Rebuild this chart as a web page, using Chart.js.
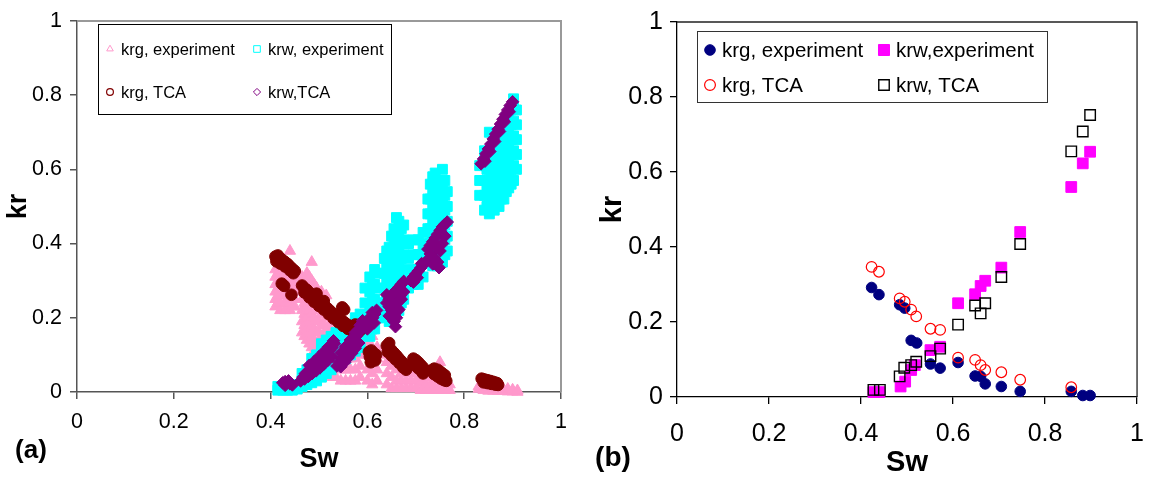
<!DOCTYPE html>
<html>
<head>
<meta charset="utf-8">
<script src="https://cdn.jsdelivr.net/npm/chart.js@4.4.0/dist/chart.umd.min.js"></script>
<style>
  body { margin: 0; background: #fff; }
  #wrap { position: relative; width: 1159px; height: 477px; }
  .panel { position: absolute; top: 0; }
</style>
</head>
<body>
<div id="wrap">
  <div class="panel" style="left:0"><canvas id="chart-a" width="580" height="477"></canvas></div>
  <div class="panel" style="left:580px"><canvas id="chart-b" width="579" height="477"></canvas></div>
</div>
<script>
Chart.defaults.font.family = "'Liberation Sans', Arial, sans-serif";
Chart.defaults.color = '#000';

// ---- panel (a): all realisations, Sw / kr ----
// dense clouds are kept per Sw column: [Sw, [kr, kr, ...]]
const krgExpA = [
  [0.41, [0.23, 0.25, 0.27, 0.29, 0.31, 0.33]],
  [0.415, [0.24, 0.26, 0.28, 0.30, 0.32]],
  [0.42, [0.22, 0.24, 0.26, 0.28, 0.30, 0.32, 0.34]],
  [0.43, [0.22, 0.24, 0.26, 0.28, 0.30, 0.32, 0.35]],
  [0.435, [0.23, 0.25, 0.27, 0.29, 0.31, 0.33]],
  [0.44, [0.22, 0.24, 0.26, 0.28, 0.30, 0.38]],
  [0.445, [0.23, 0.25, 0.27, 0.29]],
  [0.45, [0.23, 0.25, 0.27, 0.29, 0.31]],
  [0.465, [0.16, 0.19, 0.22, 0.25, 0.28, 0.31]],
  [0.47, [0.15, 0.18, 0.21, 0.24, 0.27, 0.30]],
  [0.475, [0.14, 0.17, 0.20, 0.23, 0.26, 0.29, 0.32]],
  [0.48, [0.13, 0.16, 0.19, 0.22, 0.25, 0.28, 0.31]],
  [0.485, [0.12, 0.15, 0.18, 0.21, 0.24, 0.27, 0.30, 0.35]],
  [0.49, [0.11, 0.14, 0.17, 0.20, 0.23, 0.26, 0.29]],
  [0.495, [0.10, 0.13, 0.16, 0.19, 0.22, 0.25, 0.28]],
  [0.50, [0.10, 0.13, 0.16, 0.19, 0.22, 0.25]],
  [0.505, [0.09, 0.12, 0.15, 0.18, 0.21, 0.24, 0.27]],
  [0.51, [0.09, 0.12, 0.15, 0.18, 0.21, 0.24]],
  [0.515, [0.08, 0.11, 0.14, 0.17, 0.20, 0.23, 0.26]],
  [0.52, [0.06, 0.09, 0.12, 0.15, 0.18, 0.21]],
  [0.525, [0.04, 0.07, 0.10, 0.13, 0.16, 0.19, 0.22]],
  [0.535, [0.04, 0.07, 0.10, 0.13, 0.16, 0.19]],
  [0.545, [0.03, 0.06, 0.09, 0.12, 0.15, 0.18]],
  [0.555, [0.03, 0.06, 0.09, 0.12, 0.15]],
  [0.565, [0.03, 0.06, 0.09, 0.12]],
  [0.575, [0.03, 0.06, 0.09, 0.12]],
  [0.585, [0.04, 0.07, 0.10]],
  [0.60, [0.03, 0.06, 0.10, 0.13]],
  [0.61, [0.02, 0.05, 0.08, 0.12, 0.15]],
  [0.62, [0.03, 0.06, 0.09, 0.12]],
  [0.64, [0.02, 0.05, 0.08, 0.10]],
  [0.65, [0.01, 0.04, 0.07, 0.09]],
  [0.66, [0.01, 0.03, 0.06, 0.08]],
  [0.67, [0.01, 0.03, 0.05, 0.07]],
  [0.68, [0.01, 0.03, 0.05]],
  [0.69, [0.01, 0.03, 0.05, 0.07]],
  [0.70, [0.01, 0.03, 0.05]],
  [0.71, [0.005, 0.025, 0.045]],
  [0.72, [0.005, 0.02, 0.04]],
  [0.73, [0.005, 0.02, 0.04, 0.055]],
  [0.74, [0.005, 0.02, 0.035, 0.05]],
  [0.75, [0.005, 0.02, 0.035, 0.08]],
  [0.76, [0.005, 0.02, 0.035]],
  [0.77, [0.005, 0.02]],
  [0.83, [0.008, 0.015]],
  [0.84, [0.005, 0.015]],
  [0.85, [0.003, 0.012]],
  [0.86, [0.003, 0.012]],
  [0.87, [0.002, 0.01]],
  [0.88, [0.002, 0.01]],
  [0.89, [0.001, 0.008]],
  [0.90, [0.001, 0.006]],
  [0.91, [0.0, 0.004]]
];

const krwExpA = [
  [0.415, [0.005, 0.015]],
  [0.425, [0.005, 0.015]],
  [0.435, [0.005, 0.015]],
  [0.445, [0.005, 0.015]],
  [0.455, [0.008, 0.02]],
  [0.465, [0.015, 0.03, 0.05]],
  [0.475, [0.02, 0.04, 0.06]],
  [0.485, [0.025, 0.045, 0.07, 0.09]],
  [0.495, [0.03, 0.055, 0.08, 0.10]],
  [0.505, [0.04, 0.065, 0.09, 0.11, 0.13]],
  [0.515, [0.05, 0.075, 0.10, 0.12, 0.14]],
  [0.525, [0.06, 0.085, 0.11, 0.13, 0.15]],
  [0.535, [0.07, 0.10, 0.13, 0.16]],
  [0.545, [0.08, 0.11, 0.14, 0.17]],
  [0.555, [0.09, 0.12, 0.15]],
  [0.565, [0.10, 0.13, 0.16]],
  [0.575, [0.11, 0.14, 0.17, 0.20]],
  [0.585, [0.12, 0.15, 0.18, 0.21]],
  [0.595, [0.16, 0.20, 0.24, 0.28]],
  [0.605, [0.15, 0.19, 0.23, 0.27, 0.31]],
  [0.61, [0.17, 0.21, 0.25, 0.29]],
  [0.615, [0.17, 0.21, 0.25, 0.29, 0.33]],
  [0.622, [0.20, 0.24, 0.28, 0.32]],
  [0.635, [0.20, 0.24, 0.28, 0.32, 0.36]],
  [0.64, [0.22, 0.26, 0.30, 0.34, 0.38]],
  [0.645, [0.19, 0.23, 0.27, 0.31, 0.35, 0.39]],
  [0.65, [0.21, 0.25, 0.29, 0.33, 0.37, 0.42]],
  [0.655, [0.20, 0.24, 0.28, 0.32, 0.36, 0.40, 0.44]],
  [0.66, [0.23, 0.27, 0.31, 0.35, 0.39, 0.43, 0.47]],
  [0.665, [0.22, 0.26, 0.30, 0.34, 0.38, 0.42, 0.46]],
  [0.67, [0.24, 0.28, 0.32, 0.36, 0.40, 0.44]],
  [0.675, [0.25, 0.29, 0.33, 0.37, 0.41, 0.45]],
  [0.685, [0.28, 0.32, 0.36, 0.40]],
  [0.695, [0.29, 0.33, 0.37, 0.41]],
  [0.705, [0.29, 0.33, 0.37, 0.41]],
  [0.715, [0.31, 0.35, 0.39, 0.43]],
  [0.725, [0.36, 0.40, 0.44, 0.48, 0.52]],
  [0.73, [0.36, 0.40, 0.44, 0.48, 0.52, 0.56]],
  [0.735, [0.34, 0.38, 0.42, 0.46, 0.50, 0.54, 0.58]],
  [0.74, [0.36, 0.40, 0.44, 0.48, 0.52, 0.56, 0.59]],
  [0.745, [0.34, 0.38, 0.42, 0.46, 0.50, 0.54, 0.57]],
  [0.75, [0.36, 0.40, 0.44, 0.48, 0.52, 0.56]],
  [0.755, [0.35, 0.39, 0.43, 0.47, 0.51, 0.55, 0.60]],
  [0.76, [0.37, 0.41, 0.45, 0.49, 0.53, 0.57]],
  [0.765, [0.38, 0.42, 0.46, 0.50, 0.54]],
  [0.832, [0.53, 0.57, 0.61]],
  [0.842, [0.49, 0.53, 0.57, 0.61, 0.65]],
  [0.847, [0.50, 0.55, 0.60, 0.64]],
  [0.852, [0.48, 0.52, 0.56, 0.60, 0.64, 0.70]],
  [0.857, [0.50, 0.54, 0.58, 0.62, 0.66]],
  [0.862, [0.49, 0.53, 0.57, 0.61, 0.65, 0.68]],
  [0.867, [0.51, 0.55, 0.59, 0.63, 0.67]],
  [0.872, [0.50, 0.54, 0.58, 0.62, 0.66, 0.70]],
  [0.877, [0.52, 0.56, 0.60, 0.64, 0.68, 0.71]],
  [0.882, [0.52, 0.56, 0.60, 0.64, 0.68, 0.72]],
  [0.887, [0.54, 0.58, 0.62, 0.66, 0.70, 0.74]],
  [0.892, [0.55, 0.59, 0.63, 0.67, 0.71, 0.75]],
  [0.897, [0.56, 0.60, 0.64, 0.68, 0.72, 0.76]],
  [0.902, [0.57, 0.61, 0.65, 0.69, 0.73, 0.77, 0.79]],
  [0.908, [0.60, 0.64, 0.68, 0.72, 0.76]]
];

// TCA results, [Sw, kr] pairs
const krgTcaA = [
  [0.41, 0.365], [0.415, 0.368], [0.42, 0.36], [0.425, 0.355], [0.43, 0.35], [0.435, 0.345],
  [0.44, 0.338], [0.445, 0.332], [0.45, 0.326], [0.412, 0.352], [0.42, 0.346], [0.43, 0.338],
  [0.44, 0.328], [0.447, 0.32], [0.423, 0.292], [0.428, 0.286], [0.443, 0.262],
  [0.465, 0.287], [0.47, 0.28], [0.475, 0.275], [0.48, 0.268], [0.485, 0.262], [0.49, 0.256],
  [0.495, 0.252], [0.5, 0.245], [0.505, 0.24], [0.51, 0.234], [0.515, 0.228], [0.52, 0.222],
  [0.525, 0.216], [0.53, 0.21], [0.535, 0.205], [0.54, 0.2], [0.545, 0.195], [0.55, 0.19],
  [0.555, 0.185], [0.56, 0.18], [0.565, 0.176], [0.57, 0.172], [0.575, 0.168], [0.58, 0.165],
  [0.585, 0.166], [0.47, 0.268], [0.48, 0.255], [0.49, 0.243], [0.5, 0.232], [0.51, 0.222],
  [0.52, 0.21], [0.53, 0.198], [0.54, 0.188], [0.55, 0.178], [0.56, 0.17], [0.57, 0.162],
  [0.495, 0.265], [0.51, 0.245], [0.548, 0.228], [0.552, 0.222], [0.575, 0.182], [0.588, 0.175],
  [0.603, 0.108], [0.608, 0.112], [0.613, 0.105], [0.618, 0.1], [0.605, 0.095], [0.611, 0.09],
  [0.616, 0.085], [0.607, 0.08],
  [0.64, 0.125], [0.645, 0.12], [0.65, 0.112], [0.655, 0.105], [0.66, 0.098], [0.665, 0.09],
  [0.67, 0.083], [0.675, 0.076], [0.68, 0.07], [0.642, 0.108], [0.65, 0.098], [0.658, 0.088],
  [0.666, 0.078], [0.674, 0.066], [0.68, 0.06], [0.645, 0.132],
  [0.695, 0.09], [0.7, 0.086], [0.705, 0.08], [0.71, 0.073], [0.715, 0.066], [0.698, 0.072],
  [0.705, 0.064], [0.712, 0.056], [0.715, 0.05],
  [0.732, 0.058], [0.738, 0.063], [0.745, 0.06], [0.75, 0.055], [0.755, 0.05], [0.76, 0.045],
  [0.738, 0.048], [0.745, 0.042], [0.752, 0.036], [0.758, 0.032], [0.763, 0.03],
  [0.836, 0.036], [0.841, 0.034], [0.847, 0.032], [0.853, 0.03], [0.858, 0.028], [0.863, 0.026],
  [0.868, 0.024], [0.84, 0.026], [0.848, 0.024], [0.856, 0.022], [0.864, 0.02], [0.87, 0.019]
];

const krwTcaA = [
  [0.425, 0.025], [0.43, 0.028], [0.435, 0.026], [0.44, 0.022], [0.445, 0.019], [0.43, 0.018], [0.437, 0.03],
  [0.462, 0.03], [0.467, 0.04], [0.472, 0.05], [0.477, 0.055], [0.482, 0.06], [0.487, 0.065],
  [0.492, 0.07], [0.497, 0.078], [0.502, 0.085], [0.507, 0.09], [0.512, 0.097], [0.517, 0.105],
  [0.522, 0.112], [0.527, 0.12], [0.532, 0.13], [0.47, 0.035], [0.478, 0.042], [0.486, 0.05],
  [0.494, 0.057], [0.502, 0.065], [0.51, 0.075], [0.518, 0.085], [0.526, 0.095], [0.48, 0.072],
  [0.49, 0.082], [0.5, 0.095], [0.51, 0.108], [0.52, 0.122], [0.53, 0.138],
  [0.537, 0.07], [0.542, 0.08], [0.547, 0.09], [0.552, 0.1], [0.557, 0.11], [0.562, 0.12],
  [0.567, 0.13], [0.572, 0.14], [0.577, 0.15], [0.582, 0.16], [0.587, 0.17], [0.592, 0.18],
  [0.545, 0.068], [0.553, 0.08], [0.56, 0.092], [0.568, 0.105], [0.575, 0.118], [0.582, 0.132],
  [0.545, 0.105], [0.555, 0.122], [0.565, 0.14], [0.575, 0.16], [0.585, 0.18], [0.59, 0.192],
  [0.603, 0.18], [0.607, 0.19], [0.611, 0.2], [0.615, 0.21], [0.619, 0.22], [0.605, 0.2],
  [0.61, 0.214], [0.614, 0.186], [0.6, 0.17],
  [0.64, 0.24], [0.645, 0.25], [0.65, 0.26], [0.655, 0.268], [0.66, 0.275], [0.665, 0.282],
  [0.67, 0.29], [0.675, 0.298], [0.645, 0.23], [0.65, 0.22], [0.655, 0.21], [0.66, 0.2],
  [0.665, 0.222], [0.67, 0.25], [0.66, 0.24], [0.65, 0.242], [0.655, 0.19], [0.64, 0.262],
  [0.675, 0.27], [0.658, 0.176], [0.668, 0.26], [0.645, 0.205],
  [0.69, 0.3], [0.695, 0.31], [0.7, 0.318], [0.705, 0.326], [0.71, 0.334], [0.715, 0.342],
  [0.72, 0.35], [0.695, 0.296], [0.703, 0.308], [0.712, 0.346],
  [0.725, 0.385], [0.73, 0.395], [0.735, 0.405], [0.74, 0.415], [0.745, 0.425], [0.75, 0.435],
  [0.755, 0.445], [0.76, 0.452], [0.765, 0.458], [0.73, 0.372], [0.738, 0.36], [0.745, 0.35],
  [0.75, 0.38], [0.755, 0.4], [0.76, 0.42], [0.742, 0.39], [0.748, 0.335], [0.735, 0.345],
  [0.835, 0.615], [0.84, 0.628], [0.845, 0.642], [0.85, 0.655], [0.855, 0.668], [0.86, 0.682],
  [0.865, 0.695], [0.87, 0.708], [0.875, 0.722], [0.88, 0.735], [0.885, 0.748], [0.89, 0.76],
  [0.895, 0.772], [0.9, 0.782], [0.843, 0.622], [0.853, 0.648], [0.863, 0.675], [0.873, 0.702],
  [0.883, 0.728], [0.893, 0.755]
];

// ---- panel (b): averaged values ----
const krgExpB = [
  [0.423, 0.292], [0.439, 0.273], [0.484, 0.246], [0.495, 0.237], [0.509, 0.151], [0.521, 0.144],
  [0.551, 0.088], [0.572, 0.077], [0.611, 0.092], [0.648, 0.056], [0.66, 0.055], [0.67, 0.035],
  [0.705, 0.028], [0.746, 0.015], [0.857, 0.015], [0.882, 0.004], [0.898, 0.004]
];
const krwExpB = [
  [0.427, 0.013], [0.44, 0.013], [0.486, 0.028], [0.496, 0.041], [0.509, 0.072], [0.517, 0.085],
  [0.551, 0.125], [0.572, 0.134], [0.611, 0.25], [0.648, 0.274], [0.66, 0.296], [0.67, 0.31],
  [0.705, 0.345], [0.746, 0.44], [0.857, 0.56], [0.882, 0.623], [0.898, 0.654]
];
const krgTcaB = [
  [0.423, 0.347], [0.439, 0.334], [0.484, 0.263], [0.495, 0.254], [0.509, 0.233], [0.52, 0.215],
  [0.551, 0.182], [0.572, 0.179], [0.611, 0.105], [0.648, 0.099], [0.66, 0.085], [0.67, 0.072],
  [0.705, 0.066], [0.746, 0.046], [0.857, 0.026]
];
const krwTcaB = [
  [0.427, 0.019], [0.441, 0.019], [0.484, 0.055], [0.494, 0.078], [0.509, 0.085], [0.52, 0.094],
  [0.551, 0.109], [0.572, 0.129], [0.611, 0.193], [0.648, 0.244], [0.66, 0.223], [0.67, 0.25],
  [0.705, 0.32], [0.746, 0.408], [0.857, 0.655], [0.882, 0.708], [0.898, 0.752]
];

const pairs = a => a.map(([x, y]) => ({ x, y }));
const columns = a => a.flatMap(([x, ks]) => ks.map(y => ({ x, y })));

// legend drawn as a boxed 2x2 grid
function boxLegend(cfg) {
  return {
    id: 'boxLegend',
    afterDraw(chart) {
      const ctx = chart.ctx;
      ctx.save();
      ctx.lineWidth = 1;
      ctx.strokeStyle = cfg.color;
      ctx.strokeRect(cfg.box[0] + 0.5, cfg.box[1] + 0.5, cfg.box[2], cfg.box[3]);
      ctx.font = cfg.font;
      ctx.textBaseline = 'middle';
      cfg.items.forEach(it => {
        const ds = chart.data.datasets[it.ds];
        ctx.strokeStyle = ds.borderColor;
        ctx.fillStyle = it.filled ? ds.borderColor : 'rgba(0,0,0,0)';
        ctx.lineWidth = it.bw;
        Chart.helpers.drawPoint(ctx, { pointStyle: ds.pointStyle, radius: it.r, rotation: 0, borderWidth: it.bw }, it.x, it.y);
        ctx.fillStyle = '#000';
        ctx.fillText(ds.label, it.tx, it.y + 1);
      });
      ctx.restore();
    }
  };
}

// top/right plot border and the panel letter
function frame(cfg) {
  return {
    id: 'frame',
    beforeDatasetsDraw(chart) {
      const { ctx, chartArea: a } = chart;
      ctx.save();
      ctx.strokeStyle = cfg.color;
      ctx.lineWidth = cfg.width;
      ctx.beginPath();
      ctx.moveTo(a.left, a.top);
      ctx.lineTo(a.right, a.top);
      ctx.lineTo(a.right, a.bottom);
      ctx.stroke();
      ctx.restore();
    },
    afterDraw(chart) {
      const ctx = chart.ctx;
      ctx.save();
      ctx.font = cfg.labelFont;
      ctx.fillStyle = '#000';
      ctx.textAlign = 'center';
      ctx.textBaseline = 'middle';
      ctx.fillText(cfg.label, cfg.lx, cfg.ly);
      ctx.restore();
    }
  };
}

function axes(o) {
  const tickFmt = v => String(Math.round(v * 10) / 10);
  return {
    x: {
      type: 'linear', min: 0, max: 1,
      ticks: { stepSize: 0.2, font: { size: o.tick }, padding: o.xPad, color: '#000', callback: tickFmt },
      grid: { drawOnChartArea: false, tickLength: 7, color: o.axis, lineWidth: o.axisW },
      border: { color: o.axis, width: o.axisW },
      title: { display: true, text: 'Sw', color: '#000',
        font: { size: o.title, weight: 'bold', lineHeight: 1 }, padding: { top: 0, bottom: o.xTitlePad } },
      afterFit: s => { s.height = o.xH; }
    },
    y: {
      type: 'linear', min: 0, max: 1,
      ticks: { stepSize: 0.2, font: { size: o.tick }, padding: o.yPad, color: '#000', callback: tickFmt },
      grid: { drawOnChartArea: false, tickLength: 7, color: o.axis, lineWidth: o.axisW },
      border: { color: o.axis, width: o.axisW },
      title: { display: true, text: 'kr', color: '#000',
        font: { size: o.title, weight: 'bold', lineHeight: 1 }, padding: { top: o.yTitlePad, bottom: 0 } },
      afterFit: s => { s.width = o.yW; }
    }
  };
}

new Chart(document.getElementById('chart-a'), {
  type: 'scatter',
  data: {
    datasets: [
      { label: 'krg, experiment', data: columns(krgExpA), pointStyle: 'triangle', pointRadius: 6.5,
        borderColor: '#FF99CC', backgroundColor: '#FF99CC', borderWidth: 1, order: 4, clip: false },
      { label: 'krw, experiment', data: columns(krwExpA), pointStyle: 'rect', pointRadius: 7,
        borderColor: '#00FFFF', backgroundColor: '#00FFFF', borderWidth: 1, order: 3, clip: false },
      { label: 'krg, TCA', data: pairs(krgTcaA), pointStyle: 'circle', pointRadius: 5.8,
        borderColor: '#800000', backgroundColor: '#800000', borderWidth: 1, order: 2, clip: false },
      { label: 'krw,TCA', data: pairs(krwTcaA), pointStyle: 'rectRot', pointRadius: 6.3,
        borderColor: '#800080', backgroundColor: '#800080', borderWidth: 1, order: 1, clip: false }
    ]
  },
  options: {
    responsive: false,
    animation: false,
    layout: { padding: { left: 0, top: 14, right: 19, bottom: 0 } },
    plugins: { legend: { display: false }, tooltip: { enabled: false } },
    scales: axes({ tick: 21.5, title: 27, axis: '#555', axisW: 1.5, xPad: 10, yPad: 8,
      xTitlePad: 4, yTitlePad: 5, xH: 85, yW: 77 })
  },
  plugins: [
    frame({ color: '#999', width: 2, label: '(a)', labelFont: "bold 26px 'Liberation Sans', Arial", lx: 31, ly: 451 }),
    boxLegend({ box: [98, 24, 293, 90], color: '#000', font: "16.5px 'Liberation Sans', Arial",
      items: [
        { ds: 0, x: 110, y: 49, tx: 121, r: 3.8, bw: 1 },
        { ds: 1, x: 257, y: 49, tx: 268, r: 4.7, bw: 1 },
        { ds: 2, x: 110, y: 92, tx: 121, r: 3.4, bw: 1.2 },
        { ds: 3, x: 257, y: 92, tx: 268, r: 3.6, bw: 1 }
      ] })
  ]
});

new Chart(document.getElementById('chart-b'), {
  type: 'scatter',
  data: {
    datasets: [
      { label: 'krg, experiment', data: pairs(krgExpB), pointStyle: 'circle', pointRadius: 5.3,
        borderColor: '#000080', backgroundColor: '#000080', borderWidth: 1, order: 4, clip: false },
      { label: 'krw,experiment', data: pairs(krwExpB), pointStyle: 'rect', pointRadius: 7.6,
        borderColor: '#FF00FF', backgroundColor: '#FF00FF', borderWidth: 1, order: 3, clip: false },
      { label: 'krg, TCA', data: pairs(krgTcaB), pointStyle: 'circle', pointRadius: 5.3,
        borderColor: '#FF0000', backgroundColor: 'rgba(0,0,0,0)', borderWidth: 1.2, order: 2, clip: false },
      { label: 'krw, TCA', data: pairs(krwTcaB), pointStyle: 'rect', pointRadius: 7.4,
        borderColor: '#000000', backgroundColor: 'rgba(0,0,0,0)', borderWidth: 1.4, order: 1, clip: false }
    ]
  },
  options: {
    responsive: false,
    animation: false,
    layout: { padding: { left: 0, top: 17, right: 7, bottom: 0 } },
    plugins: { legend: { display: false }, tooltip: { enabled: false } },
    scales: axes({ tick: 25, title: 29, axis: '#000', axisW: 1.3, xPad: 15, yPad: 7,
      xTitlePad: 0, yTitlePad: 18, xH: 80, yW: 97 })
  },
  plugins: [
    frame({ color: '#222', width: 1.3, label: '(b)', labelFont: "bold 28px 'Liberation Sans', Arial", lx: 33, ly: 458 }),
    boxLegend({ box: [117, 31, 350, 71], color: '#333', font: "20.5px 'Liberation Sans', Arial",
      items: [
        { ds: 0, x: 130, y: 50, tx: 142, r: 5.3, bw: 1, filled: true },
        { ds: 1, x: 304, y: 50, tx: 316, r: 7.8, bw: 1, filled: true },
        { ds: 2, x: 130, y: 85, tx: 142, r: 5.4, bw: 1.2 },
        { ds: 3, x: 304, y: 85, tx: 316, r: 7.4, bw: 1.4 }
      ] })
  ]
});
</script>
</body>
</html>
